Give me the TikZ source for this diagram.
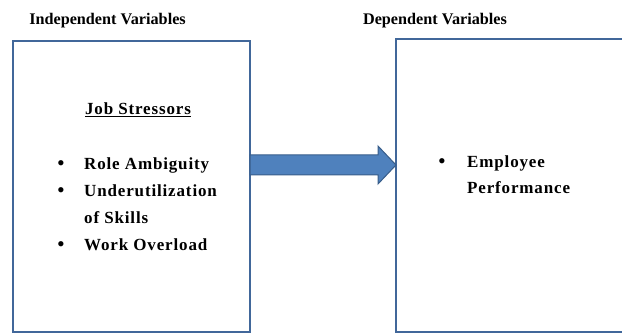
\documentclass[tikz,border=0pt]{standalone}
\usepackage{fontspec}
\setmainfont{Liberation Serif}
\definecolor{boxblue}{HTML}{41679A}
\definecolor{arrfill}{HTML}{4F81BD}
\definecolor{arrline}{HTML}{385D8A}
\begin{document}
\begin{tikzpicture}[x=1pt,y=-1pt,
  panel/.style={draw=boxblue,line width=2.8pt,fill=none},
  title/.style={font=\bfseries\fontsize{16.2}{18}\selectfont,anchor=base},
  item/.style={font=\bfseries\fontsize{17}{18}\selectfont\addfontfeatures{LetterSpace=5},anchor=base west,inner sep=0pt},
  bul/.style={font=\fontsize{22}{22}\selectfont,anchor=base,inner sep=0pt}]
\useasboundingbox (0,0) rectangle (622,334);
% boxes
\draw[panel] (13,41) rectangle (250,332);
\draw[panel] (396,39) rectangle (630,332);
\coordinate (R) at (396,165);
% titles
\node[title] (t1) at (107.5,25) {Independent Variables};
\node[title] (t2) at (435,25) {Dependent Variables};
% job stressors
\node[item,anchor=base] (js) at (138,115) {\underline{Job Stressors}};
\node[bul] (b1) at (61,171) {•};
\node[item] (i1) at (84,170) {Role Ambiguity};
\node[bul] (b2) at (61,198) {•};
\node[item] (i2) at (84,197) {Underutilization};
\node[item] (i3) at (84,224) {of Skills};
\node[bul] (b3) at (61,252) {•};
\node[item] (i4) at (84,251) {Work Overload};
% right
\node[bul] (b4) at (442,169) {•};
\node[item] (e1) at (467,168) {Employee};
\node[item] (e2) at (467,194) {Performance};
% arrow
\draw[fill=arrfill,draw=arrline,line width=1pt]
  (250,155) -- (378,155) -- (378,146) -- (R) -- (378,184) -- (378,175) -- (250,175) -- cycle;
\end{tikzpicture}
\end{document}
